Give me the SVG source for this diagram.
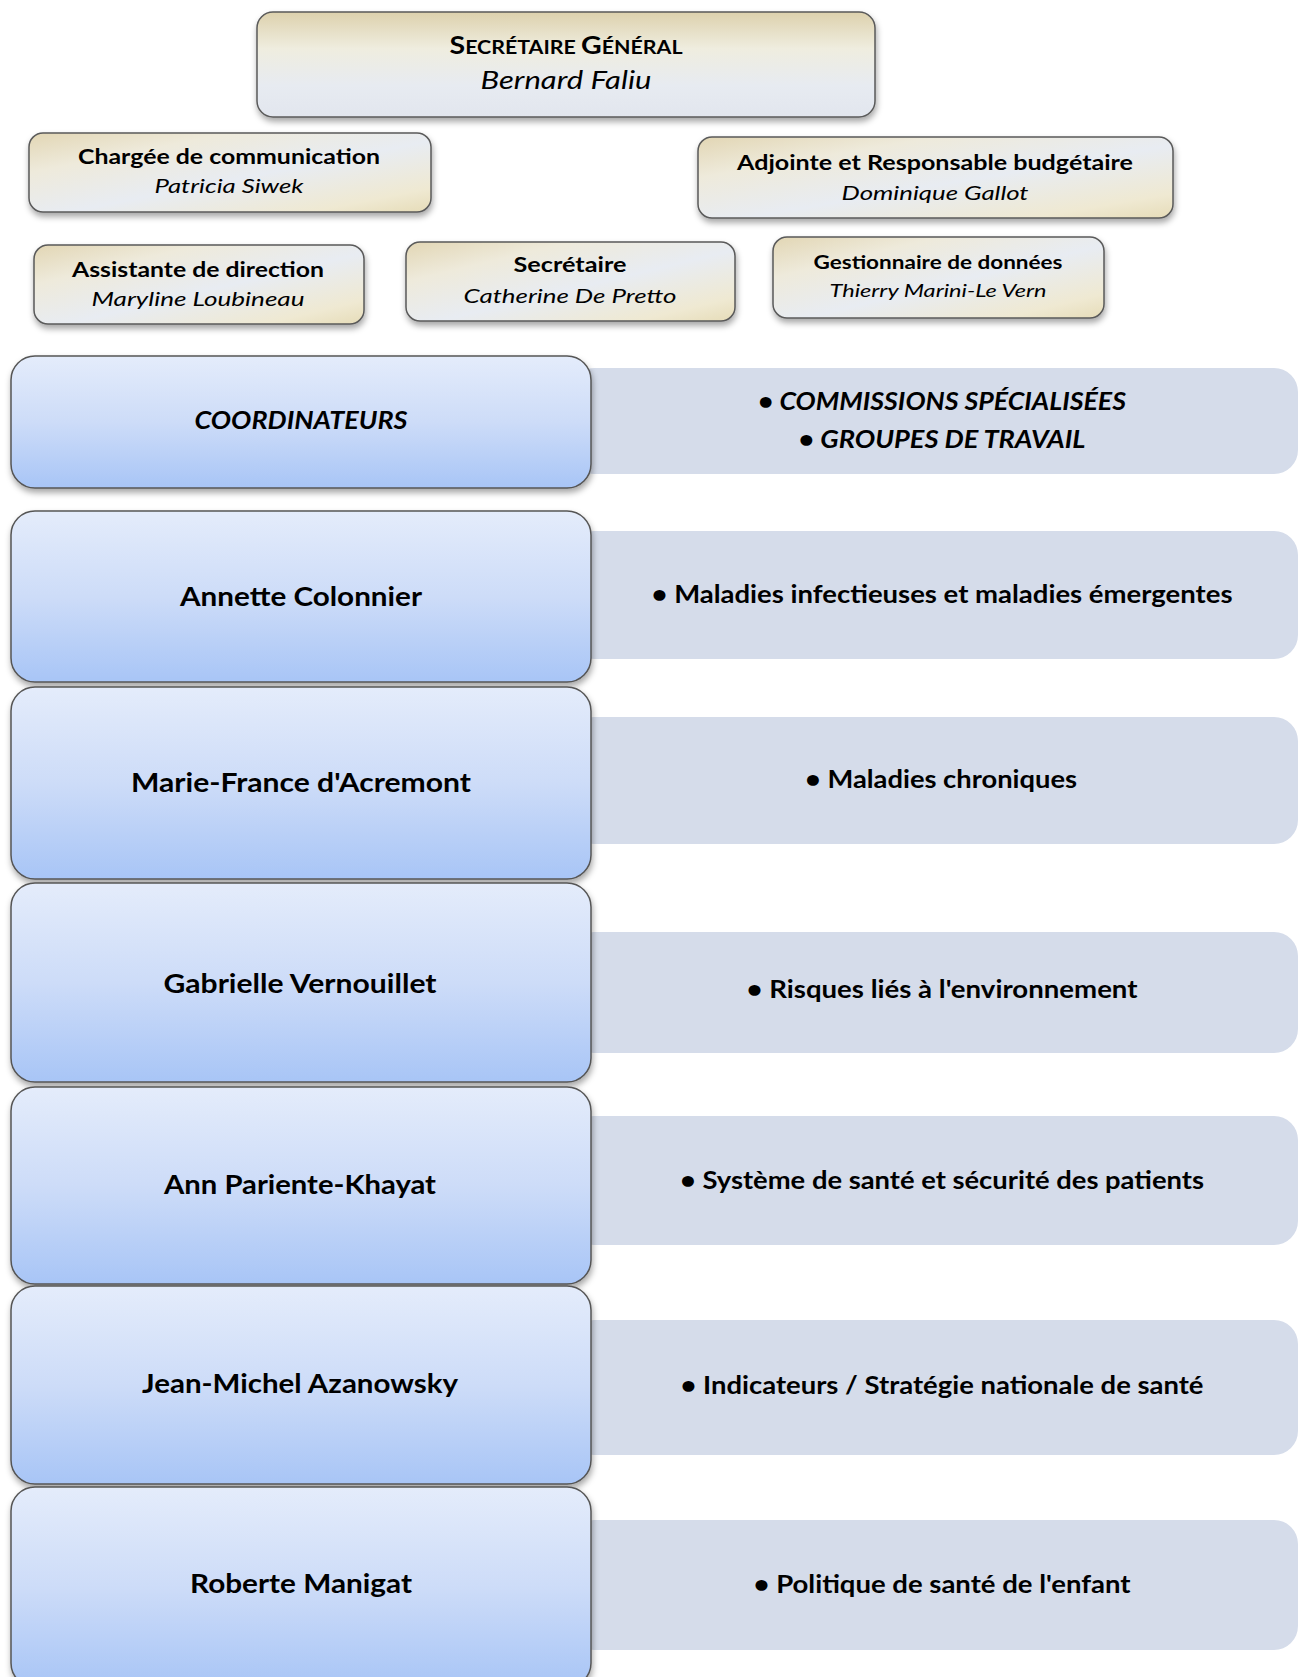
<svg xmlns="http://www.w3.org/2000/svg" width="1307" height="1677" viewBox="0 0 1307 1677">
<defs>
<linearGradient id="beige" x1="0" y1="0" x2="1" y2="1">
<stop offset="0" stop-color="#e2d6b4"/>
<stop offset="0.25" stop-color="#eeeadb"/>
<stop offset="0.55" stop-color="#e8ecf2"/>
<stop offset="0.85" stop-color="#efe9d2"/>
<stop offset="1" stop-color="#e6dcb8"/>
</linearGradient>
<linearGradient id="beigeTop" x1="0" y1="0" x2="0" y2="1">
<stop offset="0" stop-color="#ddd1ad"/>
<stop offset="0.35" stop-color="#efeddf"/>
<stop offset="0.7" stop-color="#e7ebf1"/>
<stop offset="1" stop-color="#e2e6ee"/>
</linearGradient>
<linearGradient id="blue" x1="0" y1="0" x2="0" y2="1">
<stop offset="0" stop-color="#e4ecfb"/>
<stop offset="0.5" stop-color="#cddcf8"/>
<stop offset="1" stop-color="#a8c5f6"/>
</linearGradient>
<filter id="sh" x="-5%" y="-10%" width="110%" height="130%">
<feDropShadow dx="1" dy="4" stdDeviation="3" flood-color="#000" flood-opacity="0.35"/>
</filter>
</defs>
<style>
.bx{stroke:#5a5a5a;stroke-width:1.5;filter:url(#sh)}
.bb{fill:url(#blue);stroke:#555;stroke-width:1.5;filter:url(#sh)}
.gr{fill:#d5dcea}
text{font-family:Lato,"Liberation Sans",sans-serif;fill:#000;text-anchor:middle}
.t{font-weight:bold;font-size:20px}
.n{font-style:italic;font-size:20px}
.name{font-weight:bold;font-size:27px}
.r{font-weight:bold;font-size:24px}
.ri{font-weight:bold;font-style:italic;font-size:24px}
</style>
<rect width="1307" height="1677" fill="#fff"/>
<g id="connectors"/>

<g id="sg">
<rect class="bx" x="257" y="12" width="618" height="105" rx="16" fill="url(#beigeTop)"/>
<text x="566" y="54" class="t" textLength="233" lengthAdjust="spacingAndGlyphs"><tspan font-size="24">S</tspan><tspan font-size="18">ECRÉTAIRE </tspan><tspan font-size="24">G</tspan><tspan font-size="18">ÉNÉRAL</tspan></text>
<text x="566" y="89" class="n" font-size="25" style="font-size:25px" textLength="171" lengthAdjust="spacingAndGlyphs">Bernard Faliu</text>
</g>

<g id="communication">
<rect class="bx" x="29" y="133" width="402" height="79" rx="14" fill="url(#beige)"/>
<text x="229" y="164" class="t" textLength="302" lengthAdjust="spacingAndGlyphs">Chargée de communication</text>
<text x="229" y="193" class="n" textLength="149" lengthAdjust="spacingAndGlyphs">Patricia Siwek</text>
</g>

<g id="adjointe">
<rect class="bx" x="698" y="137" width="475" height="81" rx="14" fill="url(#beige)"/>
<text x="935" y="170" class="t" textLength="396" lengthAdjust="spacingAndGlyphs">Adjointe et Responsable budgétaire</text>
<text x="935" y="200" class="n" textLength="187" lengthAdjust="spacingAndGlyphs">Dominique Gallot</text>
</g>

<g id="assistante">
<rect class="bx" x="34" y="245" width="330" height="79" rx="14" fill="url(#beige)"/>
<text x="198" y="277" class="t" textLength="252" lengthAdjust="spacingAndGlyphs">Assistante de direction</text>
<text x="198" y="306" class="n" textLength="213" lengthAdjust="spacingAndGlyphs">Maryline Loubineau</text>
</g>

<g id="secretaire">
<rect class="bx" x="406" y="242" width="329" height="79" rx="14" fill="url(#beige)"/>
<text x="570" y="272" class="t" textLength="113" lengthAdjust="spacingAndGlyphs">Secrétaire</text>
<text x="570" y="303" class="n" textLength="213" lengthAdjust="spacingAndGlyphs">Catherine De Pretto</text>
</g>

<g id="gestionnaire">
<rect class="bx" x="773" y="237" width="331" height="81" rx="14" fill="url(#beige)"/>
<text x="938" y="269" class="t" style="font-size:18px" textLength="249" lengthAdjust="spacingAndGlyphs">Gestionnaire de données</text>
<text x="938" y="297" class="n" style="font-size:18px" textLength="217" lengthAdjust="spacingAndGlyphs">Thierry Marini-Le Vern</text>
</g>

<g id="themes">
<g id="theme-commissions"><rect class="gr" x="570" y="368" width="728" height="106" rx="24"/>
<text x="942" y="410" class="ri" textLength="368" lengthAdjust="spacingAndGlyphs">• COMMISSIONS SPÉCIALISÉES</text>
<text x="942" y="448" class="ri" textLength="287" lengthAdjust="spacingAndGlyphs">• GROUPES DE TRAVAIL</text></g>
<g id="theme-infectieuses"><rect class="gr" x="570" y="531" width="728" height="128" rx="24"/>
<text x="942" y="603" class="r" textLength="581" lengthAdjust="spacingAndGlyphs">• Maladies infectieuses et maladies émergentes</text></g>
<g id="theme-chroniques"><rect class="gr" x="570" y="717" width="728" height="127" rx="24"/>
<text x="941" y="788" class="r" textLength="272" lengthAdjust="spacingAndGlyphs">• Maladies chroniques</text></g>
<g id="theme-environnement"><rect class="gr" x="570" y="932" width="728" height="121" rx="24"/>
<text x="942" y="998" class="r" textLength="391" lengthAdjust="spacingAndGlyphs">• Risques liés à l'environnement</text></g>
<g id="theme-systeme"><rect class="gr" x="570" y="1116" width="728" height="129" rx="24"/>
<text x="942" y="1189" class="r" textLength="524" lengthAdjust="spacingAndGlyphs">• Système de santé et sécurité des patients</text></g>
<g id="theme-indicateurs"><rect class="gr" x="570" y="1320" width="728" height="135" rx="24"/>
<text x="942" y="1394" class="r" textLength="523" lengthAdjust="spacingAndGlyphs">• Indicateurs / Stratégie nationale de santé</text></g>
<g id="theme-enfant"><rect class="gr" x="570" y="1520" width="728" height="130" rx="24"/>
<text x="942" y="1593" class="r" textLength="377" lengthAdjust="spacingAndGlyphs">• Politique de santé de l'enfant</text></g>
</g>

<g id="coordinateurs">
<rect class="bb" x="11" y="356" width="580" height="132" rx="24"/>
<text x="301" y="429" class="ri" textLength="213" lengthAdjust="spacingAndGlyphs">COORDINATEURS</text>
</g>
<g id="colonnier">
<rect class="bb" x="11" y="511" width="580" height="171" rx="24"/>
<text x="301" y="606" class="name" textLength="242" lengthAdjust="spacingAndGlyphs">Annette Colonnier</text>
</g>
<g id="acremont">
<rect class="bb" x="11" y="687" width="580" height="192" rx="24"/>
<text x="301" y="792" class="name" textLength="340" lengthAdjust="spacingAndGlyphs">Marie-France d'Acremont</text>
</g>
<g id="vernouillet">
<rect class="bb" x="11" y="883" width="580" height="199" rx="24"/>
<text x="300" y="993" class="name" textLength="273" lengthAdjust="spacingAndGlyphs">Gabrielle Vernouillet</text>
</g>
<g id="pariente">
<rect class="bb" x="11" y="1087" width="580" height="197" rx="24"/>
<text x="300" y="1194" class="name" textLength="272" lengthAdjust="spacingAndGlyphs">Ann Pariente-Khayat</text>
</g>
<g id="azanowsky">
<rect class="bb" x="11" y="1286" width="580" height="198" rx="24"/>
<text x="300" y="1393" class="name" textLength="316" lengthAdjust="spacingAndGlyphs">Jean-Michel Azanowsky</text>
</g>
<g id="manigat">
<rect class="bb" x="11" y="1487" width="580" height="200" rx="24"/>
<text x="301" y="1593" class="name" textLength="222" lengthAdjust="spacingAndGlyphs">Roberte Manigat</text>
</g>
</svg>
